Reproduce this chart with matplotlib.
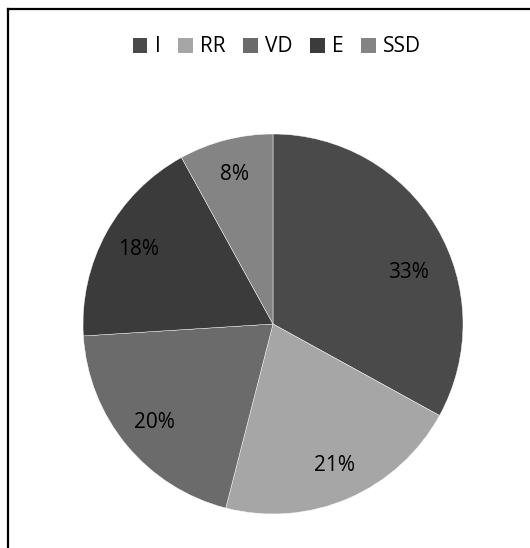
import matplotlib.pyplot as plt
import matplotlib.transforms as mtransforms
from matplotlib.patches import Patch
from matplotlib.lines import Line2D

# slice names, shares (%) and grey fills, clockwise from 12 o'clock
labels = ["I", "RR", "VD", "E", "SSD"]
shares = [33, 21, 20, 18, 8]
colors = ["#4a4a4a", "#a6a6a6", "#6b6b6b", "#3b3b3b", "#848484"]

plt.rcParams['font.family'] = ['Open Sans', 'DejaVu Sans']

fig = plt.figure(figsize=(5.30, 5.48), dpi=100)
ax = fig.add_axes([83 / 530, 34 / 548, 380 / 530, 380 / 548])

wedges, _, autotexts = ax.pie(shares,
                              colors=colors,
                              startangle=90,
                              counterclock=False,
                              autopct='%1.0f%%',
                              pctdistance=0.81,
                              wedgeprops={'edgecolor': 'white', 'linewidth': 0.3},
                              textprops={'fontsize': 15, 'color': 'black'})
ax.set_xlim(-1, 1)
ax.set_ylim(-1, 1)

# the big slice's label sits a little lower in the original
autotexts[0].set_transform(mtransforms.offset_copy(ax.transData, fig=fig, x=3, y=-27, units='dots'))

# legend row across the top
handles = [Patch(facecolor=c, edgecolor='none', label=l) for c, l in zip(colors, labels)]
fig.legend(handles=handles, loc='center', bbox_to_anchor=(277 / 530, 1 - 47 / 548),
           ncol=5, frameon=False, fontsize=15, handlelength=0.7, handleheight=0.7,
           handletextpad=0.35, columnspacing=0.85)

# chart frame: only top and left edges are visible
fig.add_artist(Line2D([7.5 / 530, 1], [1 - 8.5 / 548, 1 - 8.5 / 548], color='black', linewidth=1.6))
fig.add_artist(Line2D([7.5 / 530, 7.5 / 530], [0, 1 - 8.5 / 548], color='black', linewidth=1.6))

plt.savefig('out.png', dpi=100)
